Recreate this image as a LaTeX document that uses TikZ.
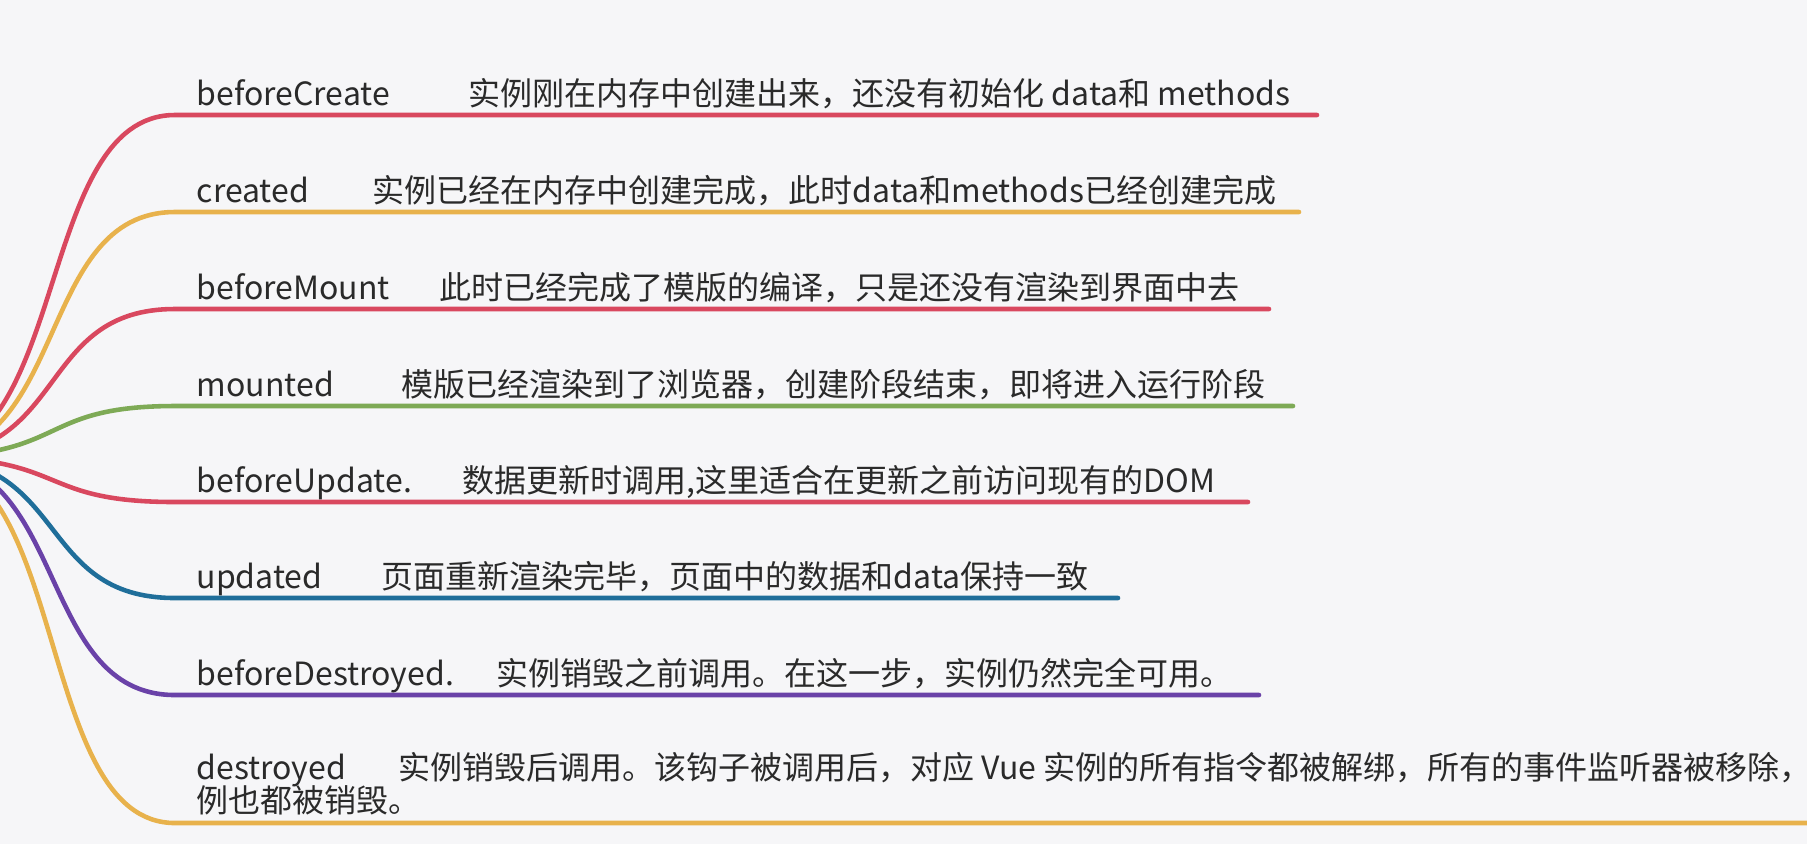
\documentclass[tikz,border=0pt]{standalone}
\usepackage{fontspec}
\setmainfont{Noto Sans CJK SC}
\usepackage{xcolor}
\usetikzlibrary{positioning}
\definecolor{bgcol}{HTML}{F6F6F8}
\definecolor{txtcol}{HTML}{2A2A2A}
\definecolor{hookred}{HTML}{D9485F}
\definecolor{hookorange}{HTML}{E8B24C}
\definecolor{hookgreen}{HTML}{7EAA56}
\definecolor{hookblue}{HTML}{1F6E9A}
\definecolor{hookpurple}{HTML}{6A42A8}

\begin{document}
\begin{tikzpicture}[x=0.01cm,y=-0.01cm,
  branch/.style={line width=1.3pt,line cap=round},
  hook/.style={anchor=base west,inner sep=0pt,text=txtcol,font=\fontsize{9.1pt}{11pt}\selectfont},
  note/.style={hook}]
\fill[bgcol] (0,0) rectangle (1807,844);
\useasboundingbox (0,0) rectangle (1807,844);
\coordinate (R) at (-80,457);
% where each branch turns flat, and where it stops
\coordinate (s1) at (175,115); \coordinate (e1) at (1317,115);
\coordinate (s2) at (175,212); \coordinate (e2) at (1299,212);
\coordinate (s3) at (175,309); \coordinate (e3) at (1269,309);
\coordinate (s4) at (175,406); \coordinate (e4) at (1293,406);
\coordinate (s5) at (175,502); \coordinate (e5) at (1248,502);
\coordinate (s6) at (175,598); \coordinate (e6) at (1118,598);
\coordinate (s7) at (175,695); \coordinate (e7) at (1259,695);
\coordinate (s8) at (175,823); \coordinate (e8) at (1807,823);
% branches
\draw[branch,hookred] (R) .. controls +(150,0) and +(-140,0) .. (s1) -- (e1);
\draw[branch,hookorange] (R) .. controls +(150,0) and +(-140,0) .. (s2) -- (e2);
\draw[branch,hookred] (R) .. controls +(150,0) and +(-140,0) .. (s3) -- (e3);
\draw[branch,hookgreen] (R) .. controls +(150,0) and +(-140,0) .. (s4) -- (e4);
\draw[branch,hookred] (R) .. controls +(150,0) and +(-140,0) .. (s5) -- (e5);
\draw[branch,hookblue] (R) .. controls +(150,0) and +(-140,0) .. (s6) -- (e6);
\draw[branch,hookpurple] (R) .. controls +(150,0) and +(-140,0) .. (s7) -- (e7);
\draw[branch,hookorange] (R) .. controls +(150,0) and +(-140,0) .. (s8) -- (e8);
% hook names and what they do
\node[hook] (h1) at (196,105) {beforeCreate}; \node[note] (n1) at (468,105) {实例刚在内存中创建出来，还没有初始化 data和 methods};
\node[hook] (h2) at (196,202) {created}; \node[note] (n2) at (372,202) {实例已经在内存中创建完成，此时data和methods已经创建完成};
\node[hook] (h3) at (196,299) {beforeMount}; \node[note] (n3) at (439,299) {此时已经完成了模版的编译，只是还没有渲染到界面中去};
\node[hook] (h4) at (196,396) {mounted}; \node[note] (n4) at (401,396) {模版已经渲染到了浏览器，创建阶段结束，即将进入运行阶段};
\node[hook] (h5) at (196,492) {beforeUpdate.}; \node[note] (n5) at (462,492) {数据更新时调用,这里适合在更新之前访问现有的DOM};
\node[hook] (h6) at (196,588) {updated}; \node[note] (n6) at (381,588) {页面重新渲染完毕，页面中的数据和data保持一致};
\node[hook] (h7) at (196,685) {beforeDestroyed.}; \node[note] (n7) at (496,685) {实例销毁之前调用。在这一步，实例仍然完全可用。};
\node[hook] (h8) at (196,779) {destroyed}; \node[note] (n8) at (398,779) {实例销毁后调用。该钩子被调用后，对应 Vue 实例的所有指令都被解绑，所有的事件监听器被移除\rlap{，}};
\node[note] (n8b) at (196,812) {例也都被销毁。};
\end{tikzpicture}
\end{document}
